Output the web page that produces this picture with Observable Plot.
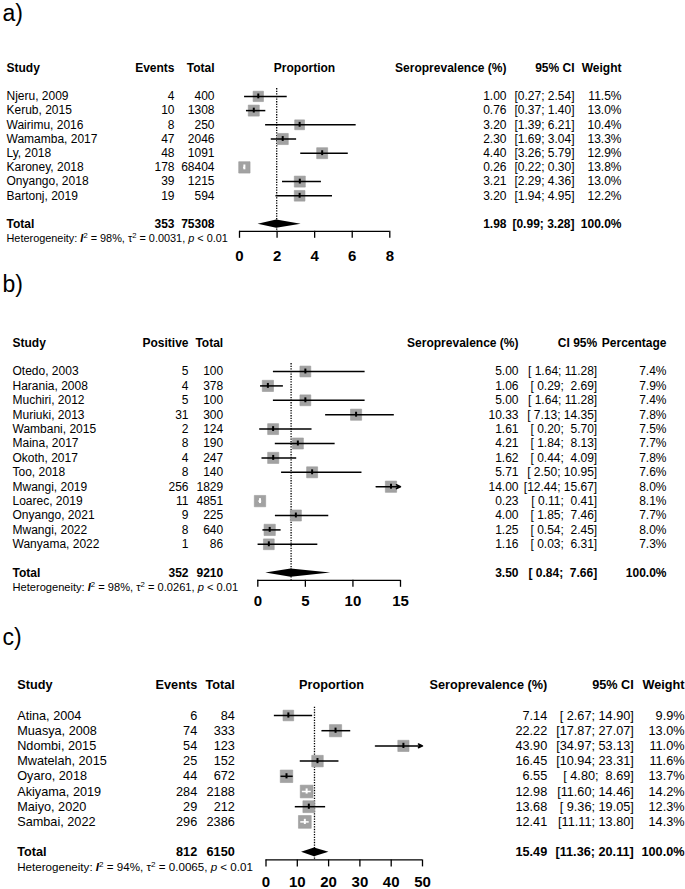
<!DOCTYPE html>
<html>
<head>
<meta charset="utf-8">
<script src="https://cdn.jsdelivr.net/npm/d3@7"></script>
<script src="https://cdn.jsdelivr.net/npm/@observablehq/plot@0.6"></script>
<style>
  body { margin: 0; background: #fff; }
  #chart { width: 685px; }
  #chart svg { display: block; }
  #chart text { white-space: pre; }
</style>
</head>
<body>
<div id="chart"></div>
<script>
// ---------- Panel a) ----------
const studiesA = ["Njeru, 2009","Kerub, 2015","Wairimu, 2016","Wamamba, 2017","Ly, 2018","Karoney, 2018","Onyango, 2018","Bartonj, 2019"];
const eventsA  = [4, 10, 8, 47, 48, 178, 39, 19];
const totalA   = [400, 1308, 250, 2046, 1091, 68404, 1215, 594];
const estA     = [1.00, 0.76, 3.20, 2.30, 4.40, 0.26, 3.21, 3.20];
const lowA     = [0.27, 0.37, 1.39, 1.69, 3.26, 0.22, 2.29, 1.94];
const highA    = [2.54, 1.40, 6.21, 3.04, 5.79, 0.30, 4.36, 4.95];
const weightA  = [11.5, 13.0, 10.4, 13.3, 12.9, 13.8, 13.0, 12.2];
const pooledA  = {events: 353, total: 75308, est: 1.98, lo: 0.99, hi: 3.28, weight: 100.0};
const hetA     = {I2: "98%", tau2: "0.0031", p: "0.01"};
const ticksA   = [0, 2, 4, 6, 8];
const headersA = ["Study", "Events", "Total", "Proportion", "Seroprevalence (%)", "95% CI", "Weight"];

// ---------- Panel b) ----------
const studiesB = ["Otedo, 2003","Harania, 2008","Muchiri, 2012","Muriuki, 2013","Wambani, 2015","Maina, 2017","Okoth, 2017","Too, 2018","Mwangi, 2019","Loarec, 2019","Onyango, 2021","Mwangi, 2022","Wanyama, 2022"];
const positiveB = [5, 4, 5, 31, 2, 8, 4, 8, 256, 11, 9, 8, 1];
const totalB    = [100, 378, 100, 300, 124, 190, 247, 140, 1829, 4851, 225, 640, 86];
const estB      = [5.00, 1.06, 5.00, 10.33, 1.61, 4.21, 1.62, 5.71, 14.00, 0.23, 4.00, 1.25, 1.16];
const lowB      = [1.64, 0.29, 1.64, 7.13, 0.20, 1.84, 0.44, 2.50, 12.44, 0.11, 1.85, 0.54, 0.03];
const highB     = [11.28, 2.69, 11.28, 14.35, 5.70, 8.13, 4.09, 10.95, 15.67, 0.41, 7.46, 2.45, 6.31];
const weightB   = [7.4, 7.9, 7.4, 7.8, 7.5, 7.7, 7.8, 7.6, 8.0, 8.1, 7.7, 8.0, 7.3];
const pooledB   = {events: 352, total: 9210, est: 3.50, lo: 0.84, hi: 7.66, weight: 100.0};
const hetB      = {I2: "98%", tau2: "0.0261", p: "0.01"};
const ticksB    = [0, 5, 10, 15];
const headersB  = ["Study", "Positive", "Total", "", "Seroprevalence (%)", "CI 95%", "Percentage"];

// ---------- Panel c) ----------
const studiesC = ["Atina, 2004","Muasya, 2008","Ndombi, 2015","Mwatelah, 2015","Oyaro, 2018","Akiyama, 2019","Maiyo, 2020","Sambai, 2022"];
const eventsC  = [6, 74, 54, 25, 44, 284, 29, 296];
const totalC   = [84, 333, 123, 152, 672, 2188, 212, 2386];
const estC     = [7.14, 22.22, 43.90, 16.45, 6.55, 12.98, 13.68, 12.41];
const lowC     = [2.67, 17.87, 34.97, 10.94, 4.80, 11.60, 9.36, 11.11];
const highC    = [14.90, 27.07, 53.13, 23.31, 8.69, 14.46, 19.05, 13.80];
const weightC  = [9.9, 13.0, 11.0, 11.6, 13.7, 14.2, 12.3, 14.3];
const pooledC  = {events: 812, total: 6150, est: 15.49, lo: 11.36, hi: 20.11, weight: 100.0};
const hetC     = {I2: "94%", tau2: "0.0065", p: "0.01"};
const ticksC   = [0, 10, 20, 30, 40, 50];
const headersC = ["Study", "Events", "Total", "Proportion", "Seroprevalence (%)", "95% CI", "Weight"];

const FONT = "Liberation Sans, Arial, Helvetica, sans-serif";

function panel(cfg, L) {
  const n = cfg.studies.length;
  const totalRow = n + 3, hetRow = n + 4, axisRow = totalRow + 0.5;
  const [xmin, xmax] = [cfg.ticks[0], cfg.ticks[cfg.ticks.length - 1]];
  const k = (L.xRange[1] - L.xRange[0]) / (xmax - xmin);
  const maxW = d3.max(cfg.weight);
  const lw = d3.max([...cfg.lo, cfg.pooled.lo], v => v.toFixed(2).length);
  const hw = d3.max([...cfg.hi, cfg.pooled.hi], v => v.toFixed(2).length);
  const ci = (lo, hi) => "[" + lo.toFixed(2).padStart(lw) + "; " + hi.toFixed(2).padStart(hw) + "]";

  const rows = cfg.studies.map((s, i) => {
    const side = L.rMax * Math.sqrt(cfg.weight[i] / maxW) * Math.sqrt(Math.PI);
    return {
      row: i + 2, study: s, c1: cfg.c1[i], c2: cfg.c2[i],
      est: cfg.est[i], lo: cfg.lo[i], hi: cfg.hi[i], w: cfg.weight[i],
      clipped: cfg.hi[i] > xmax,
      inside: (cfg.hi[i] - cfg.lo[i]) * k < 0.8 * side
    };
  });
  const P = cfg.pooled;
  const yTop = L.header, axisPix = L.header + axisRow * L.step;
  const fs = L.fontSize;
  const T = (data, o) => Plot.text(data, {frameAnchor: "left", fontFamily: FONT, fontSize: fs, fill: "black", ...o});
  const H = cfg.headers;
  const diamond = [
    {x: P.lo, y1: totalRow, y2: totalRow},
    {x: P.est, y1: totalRow - 0.29, y2: totalRow + 0.29},
    {x: P.hi, y1: totalRow, y2: totalRow}
  ];

  const marks = [
    // panel letter
    Plot.text([cfg.letter], {frameAnchor: "top-left", dx: 2, dy: L.letterY, text: d => d, textAnchor: "start",
      lineAnchor: "middle", fontSize: 23, fontFamily: FONT, fill: "black"}),
    // headers
    T([H[0]], {y: () => 0, text: d => d, dx: L.studyX, textAnchor: "start", fontWeight: "bold"}),
    T([H[1]], {y: () => 0, text: d => d, dx: L.c1X, textAnchor: "end", fontWeight: "bold"}),
    T([H[2]], {y: () => 0, text: d => d, dx: L.c2X, textAnchor: "end", fontWeight: "bold"}),
    T([H[3]], {y: () => 0, text: d => d, dx: L.propX, textAnchor: "middle", fontWeight: "bold"}),
    T([H[4]], {y: () => 0, text: d => d, dx: L.seroX, textAnchor: "end", fontWeight: "bold"}),
    T([H[5]], {y: () => 0, text: d => d, dx: L.ciX, textAnchor: "end", fontWeight: "bold"}),
    T([H[6]], {y: () => 0, text: d => d, dx: L.wX, textAnchor: "end", fontWeight: "bold"}),
    // study rows
    T(rows, {y: "row", text: "study", dx: L.studyX, textAnchor: "start"}),
    T(rows, {y: "row", text: d => String(d.c1), dx: L.c1X, textAnchor: "end"}),
    T(rows, {y: "row", text: d => String(d.c2), dx: L.c2X, textAnchor: "end"}),
    T(rows, {y: "row", text: d => d.est.toFixed(2), dx: L.seroX, textAnchor: "end"}),
    T(rows, {y: "row", text: d => ci(d.lo, d.hi), dx: L.ciX, textAnchor: "end"}),
    T(rows, {y: "row", text: d => d.w.toFixed(1) + "%", dx: L.wX, textAnchor: "end"}),
    // total row
    T(["Total"], {y: () => totalRow, text: d => d, dx: L.studyX, textAnchor: "start", fontWeight: "bold"}),
    T([P], {y: () => totalRow, text: d => String(d.events), dx: L.c1X, textAnchor: "end", fontWeight: "bold"}),
    T([P], {y: () => totalRow, text: d => String(d.total), dx: L.c2X, textAnchor: "end", fontWeight: "bold"}),
    T([P], {y: () => totalRow, text: d => d.est.toFixed(2), dx: L.seroX, textAnchor: "end", fontWeight: "bold"}),
    T([P], {y: () => totalRow, text: d => ci(d.lo, d.hi), dx: L.ciX, textAnchor: "end", fontWeight: "bold"}),
    T([P], {y: () => totalRow, text: d => d.weight.toFixed(1) + "%", dx: L.wX, textAnchor: "end", fontWeight: "bold"}),
    // heterogeneity
    T([cfg.het], {y: () => hetRow, text: d => `Heterogeneity: I² = ${d.I2}, τ² = ${d.tau2}, p < ${d.p}`,
      dx: L.studyX, textAnchor: "start", fontSize: L.hetSize}),
    // pooled reference line (dotted)
    Plot.ruleX([P.est], {x: d => d, y1: () => 1.45, y2: () => axisRow, stroke: "black", strokeWidth: 1.3, strokeDasharray: "1.3,1.3"}),
    // squares
    Plot.dot(rows, {x: "est", y: "row", r: "w", symbol: "square", fill: "#a2a2a2", stroke: "#9a9a9a", strokeWidth: 0.6}),
    // CI lines
    Plot.ruleY(rows.filter(d => !d.clipped), {y: "row", x1: "lo", x2: "hi", stroke: d => d.inside ? "white" : "black", strokeWidth: 1.5}),
    Plot.arrow(rows.filter(d => d.clipped), {x1: "lo", x2: () => xmax, y1: "row", y2: "row", stroke: "black", strokeWidth: 1.5, headLength: 4.5, headAngle: 50}),
    // point estimate marks
    Plot.ruleX(rows, {x: "est", y1: d => d.row - 0.17, y2: d => d.row + 0.17, stroke: d => d.inside ? "white" : "black", strokeWidth: 2}),
    // pooled diamond
    Plot.areaY(diamond, {x: "x", y1: "y1", y2: "y2", fill: "black"}),
    // axis
    Plot.ruleY([axisRow], {y: d => d, x1: () => xmin, x2: () => xmax, stroke: "black", strokeWidth: 1.3}),
    Plot.axisX({anchor: "bottom", ticks: cfg.ticks, tickSize: 7, tickPadding: L.tickPad, tickFormat: d => String(d),
      fontSize: 15, fontWeight: "bold", fontFamily: FONT, strokeWidth: 1.3, stroke: "black", fill: "black", label: null})
  ];

  const svg = Plot.plot({
    width: 685, height: L.height,
    marginLeft: 0, marginRight: 0, marginTop: 0, marginBottom: L.height - axisPix,
    style: {fontFamily: FONT, fontSize: "12px", background: "white", color: "black", overflow: "visible"},
    x: {domain: [xmin, xmax], range: L.xRange, label: null},
    y: {domain: [0, hetRow], range: [yTop, yTop + hetRow * L.step], axis: null},
    r: {type: "sqrt", domain: [0, maxW], range: [0, L.rMax]},
    marks
  });

  // italic I and p, raised superscripts in the heterogeneity line
  const sup = 0.38 * L.hetSize;
  d3.select(svg).selectAll("text").each(function () {
    const t = this.textContent;
    if (!t.startsWith("Heterogeneity")) return;
    const h = cfg.het;
    const el = d3.select(this);
    el.text("");
    el.append("tspan").text("Heterogeneity: ");
    el.append("tspan").attr("font-style", "italic").attr("font-weight", "bold").text("I");
    el.append("tspan").attr("dy", -sup).attr("font-size", L.hetSize * 0.7).text("2");
    el.append("tspan").attr("dy", sup).text(` = ${h.I2}, τ`);
    el.append("tspan").attr("dy", -sup).attr("font-size", L.hetSize * 0.7).text("2");
    el.append("tspan").attr("dy", sup).text(` = ${h.tau2}, `);
    el.append("tspan").attr("font-style", "italic").text("p");
    el.append("tspan").text(` < ${h.p}`);
  });
  return svg;
}

const chart = document.getElementById("chart");

chart.appendChild(panel(
  {letter: "a)", studies: studiesA, c1: eventsA, c2: totalA, est: estA, lo: lowA, hi: highA, weight: weightA,
   pooled: pooledA, het: hetA, ticks: ticksA, headers: headersA},
  {height: 270, header: 67.5, step: 14.2, xRange: [239, 389.3], rMax: 6.4, fontSize: 12, hetSize: 10.9,
   letterY: 13, tickPad: 11.8, studyX: 6, c1X: 174, c2X: 214, propX: 304, seroX: 506, ciX: 574, wX: 621}
));

chart.appendChild(panel(
  {letter: "b)", studies: studiesB, c1: positiveB, c2: totalB, est: estB, lo: lowB, hi: highB, weight: weightB,
   pooled: pooledB, het: hetB, ticks: ticksB, headers: headersB},
  {height: 342, header: 72.2, step: 14.4, xRange: [257.3, 400], rMax: 6.4, fontSize: 12, hetSize: 11.1,
   letterY: 14, tickPad: 8.5, studyX: 12, c1X: 188, c2X: 222.7, propX: 328, seroX: 518, ciX: 596.7, wX: 666}
));

chart.appendChild(panel(
  {letter: "c)", studies: studiesC, c1: eventsC, c2: totalC, est: estC, lo: lowC, hi: highC, weight: weightC,
   pooled: pooledC, het: hetC, ticks: ticksC, headers: headersC},
  {height: 277, header: 72.6, step: 15.2, xRange: [265.5, 422], rMax: 7.2, fontSize: 12.7, hetSize: 11.6,
   letterY: 25, tickPad: 9.2, studyX: 16.7, c1X: 196.7, c2X: 234.3, propX: 331, seroX: 546.7, ciX: 633.3, wX: 684}
));
</script>
</body>
</html>
